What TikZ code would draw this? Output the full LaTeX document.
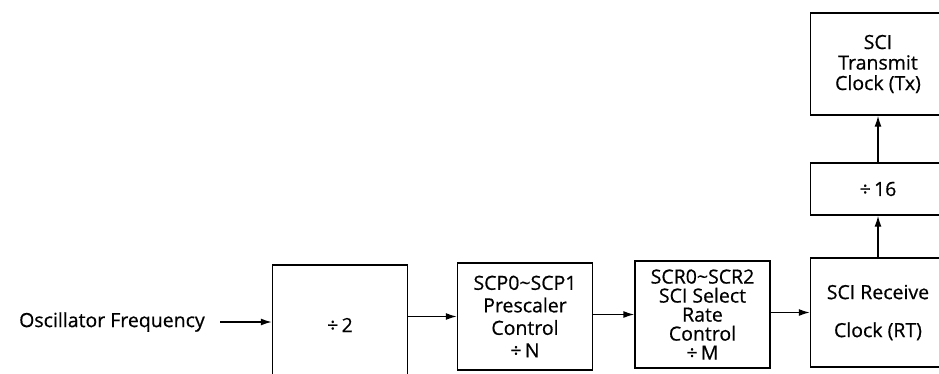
\documentclass[tikz,border=0pt]{standalone}
\usepackage{fontspec}
\setmainfont[FakeBold=0.6]{Open Sans}
\usepackage{tikz}
\usetikzlibrary{arrows.meta}
\newcommand{\boxwidth}{135pt}
\tikzset{ratebox/.style={draw, line width=1.4pt, align=center, inner sep=0pt, minimum width=\boxwidth, font=\fontsize{19.5}{22}\selectfont}}
\tikzset{plain/.style={draw=none, fill=none, inner sep=0pt, font=\fontsize{19.5}{22}\selectfont}}
\tikzset{flow/.style={line width=1.4pt, -{Latex[length=11pt,width=7pt]}}}

\begin{document}
\begin{tikzpicture}[x=1pt,y=-1pt]

\useasboundingbox (0,0) rectangle (939,373);
\clip (0,0) rectangle (939,373);

\node[plain, anchor=east] (osc) at (205,322) {Oscillator Frequency};
\node[ratebox, minimum height=120pt] (div2) at (340,325) {÷\,2};
\node[ratebox, minimum height=107pt, font=\fontsize{19.5}{22.5}\selectfont] (presc) at (525,316.5) {SCP0\textasciitilde SCP1\\Prescaler\\Control\\÷\,N};
\node[ratebox, minimum height=107pt, font=\fontsize{19.5}{19}\selectfont] (sel) at (702.5,314.5) {SCR0\textasciitilde SCR2\\SCI Select\\Rate\\Control\\÷\,M};
\node[ratebox, minimum height=109pt, font=\fontsize{19.5}{38}\selectfont] (recv) at (878,312.5) {SCI Receive\\Clock (RT)};
\node[ratebox, minimum height=52pt] (div16) at (878,189) {÷\,16};
\node[ratebox, minimum height=102pt, font=\fontsize{19.5}{20.5}\selectfont] (tx) at (878,64) {SCI\\Transmit\\Clock (Tx)};

\draw[flow] ([xshift=15pt]osc.east) -- (osc.east -| div2.west);
\draw[flow] (div2.east |- presc.west) -- (presc.west);
\draw[flow] (presc.east |- sel.west) -- (sel.west);
\draw[flow] (sel.east |- recv.west) -- (recv.west);
\draw[flow] (recv.north) -- (div16.south);
\draw[flow] (div16.north) -- (tx.south);

%\node[plain] (speck) at (95,258) {.};
\end{tikzpicture}
\end{document}
